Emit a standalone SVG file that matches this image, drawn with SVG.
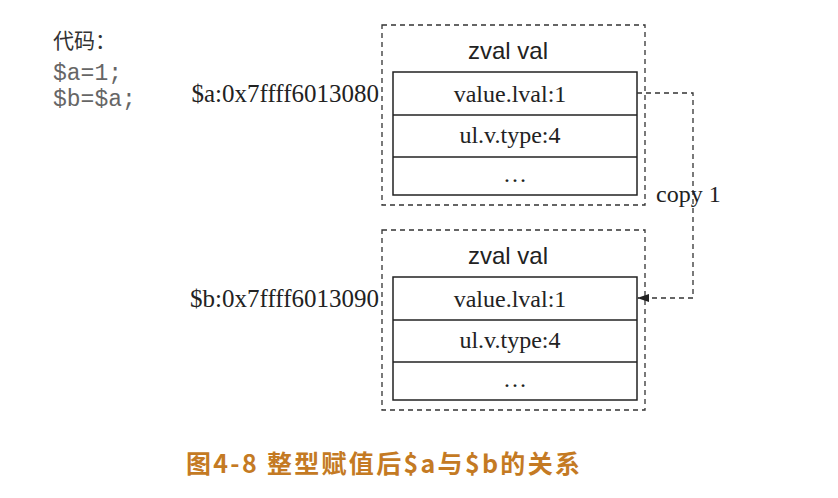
<svg xmlns="http://www.w3.org/2000/svg" width="838" height="498" viewBox="0 0 838 498">
<defs>
<style>
.dash{fill:none;stroke:#333;stroke-width:1.3;stroke-dasharray:5,4}
.box{fill:#fff;stroke:#222;stroke-width:1.5}
.row{stroke:#222;stroke-width:1.5}
.serif{font-family:"Liberation Serif","DejaVu Serif",serif;font-size:24px;fill:#222}
.lbl{font-family:"Liberation Serif","DejaVu Serif",serif;font-size:25px;fill:#222}
.sans{font-family:"Liberation Sans",Arial,sans-serif;font-size:24px;fill:#222}
.mono{font-family:"Liberation Mono","DejaVu Sans Mono",monospace;font-size:23px;fill:#666}
.cjk{font-family:"Noto Sans CJK SC",sans-serif;font-size:21px;fill:#333}
.cap{font-family:"Noto Sans CJK SC",sans-serif;font-size:25px;font-weight:bold;fill:#C47A23}
</style>
<marker id="arr" markerWidth="12" markerHeight="8" refX="11" refY="4" orient="auto" markerUnits="userSpaceOnUse">
<path d="M0,0 L12,4 L0,8 Z" fill="#222"/>
</marker>
</defs>
<g id="code">
<text class="cjk" x="53" y="48">代码：</text>
<text class="mono" x="53" y="80">$a=1;</text>
<text class="mono" x="53" y="106">$b=$a;</text>
</g>
<g id="zvalA">
<rect class="dash" x="382" y="25" width="263" height="180"/>
<text class="sans" x="508" y="59" text-anchor="middle">zval val</text>
<rect class="box" x="393" y="72" width="244" height="123"/>
<line class="row" x1="393" y1="115" x2="637" y2="115"/>
<line class="row" x1="393" y1="157" x2="637" y2="157"/>
<text class="serif" x="510" y="102" text-anchor="middle">value.lval:1</text>
<text class="serif" x="510" y="143" text-anchor="middle">ul.v.type:4</text>
<text class="serif" x="515" y="182" text-anchor="middle">…</text>
<text class="lbl" x="379" y="102" text-anchor="end">$a:0x7ffff6013080</text>
</g>
<g id="zvalB">
<rect class="dash" x="382" y="230" width="263" height="180"/>
<text class="sans" x="508" y="264" text-anchor="middle">zval val</text>
<rect class="box" x="393" y="277" width="244" height="123"/>
<line class="row" x1="393" y1="320" x2="637" y2="320"/>
<line class="row" x1="393" y1="362" x2="637" y2="362"/>
<text class="serif" x="510" y="307" text-anchor="middle">value.lval:1</text>
<text class="serif" x="510" y="348" text-anchor="middle">ul.v.type:4</text>
<text class="serif" x="515" y="387" text-anchor="middle">…</text>
<text class="lbl" x="379" y="307" text-anchor="end">$b:0x7ffff6013090</text>
</g>
<g id="connectors">
<polyline class="dash" points="637,93 693,93 693,298 638,298" marker-end="url(#arr)"/>
<text class="serif" x="656" y="202">copy 1</text>
</g>
<g id="caption">
<text class="cap" x="186" y="473" textLength="394" lengthAdjust="spacing">图4-8 整型赋值后$a与$b的关系</text>
</g>
</svg>
